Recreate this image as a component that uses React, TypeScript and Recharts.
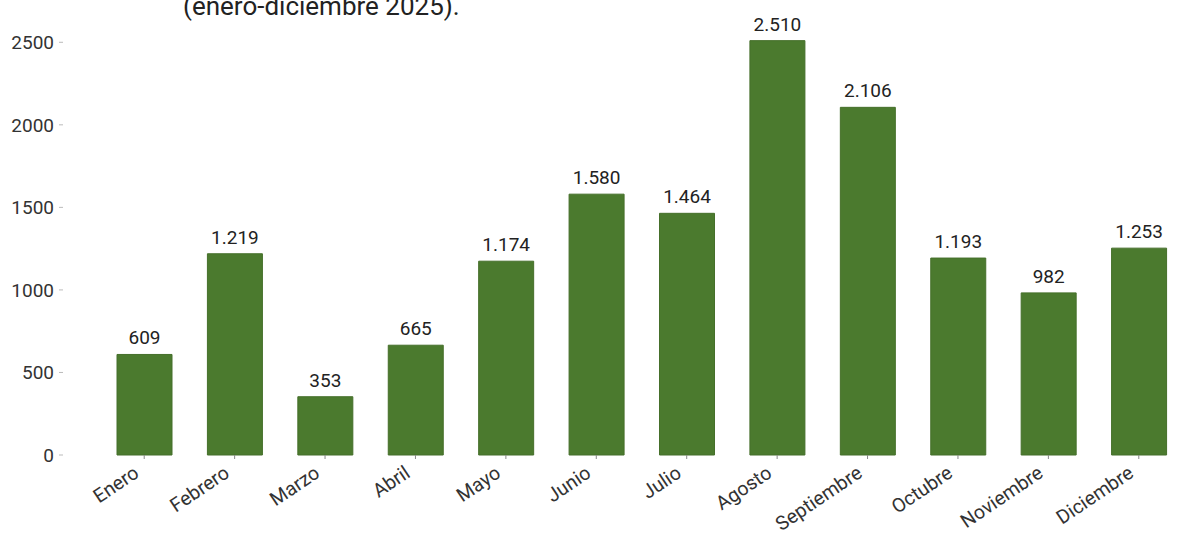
import React from "react";
import { BarChart, Bar, XAxis, YAxis, LabelList } from "recharts";

const months = [
  "Enero",
  "Febrero",
  "Marzo",
  "Abril",
  "Mayo",
  "Junio",
  "Julio",
  "Agosto",
  "Septiembre",
  "Octubre",
  "Noviembre",
  "Diciembre",
];
const totals = [609, 1219, 353, 665, 1174, 1580, 1464, 2510, 2106, 1193, 982, 1253];
const yTicks = [0, 500, 1000, 1500, 2000, 2500];

const data = months.map((m, i) => ({ month: m, total: totals[i] }));

const fmt = (v: number) => String(v).replace(/\B(?=(\d{3})+(?!\d))/g, ".");

const font = "Roboto, 'Noto Sans', sans-serif";

const MonthTick = (props: any) => {
  const { x, y, payload } = props;
  return (
    <g transform={`translate(${x - 4},${y + 15}) rotate(-34)`}>
      <text x={0} y={0} textAnchor="end" fill="#333" fontSize={19.5} fontFamily={font}>
        {payload.value}
      </text>
    </g>
  );
};

const App: React.FC = () => {
  return (
    <div
      style={{
        position: "absolute",
        left: 0,
        top: 0,
        width: 1199,
        height: 535,
        background: "#fff",
        fontFamily: font,
        overflow: "hidden",
      }}
    >
      <div
        style={{
          position: "absolute",
          left: 183,
          top: -7,
          fontSize: 26,
          lineHeight: "26px",
          color: "#222",
          whiteSpace: "nowrap",
        }}
      >
        (enero-diciembre 2025).
      </div>
      <BarChart
        width={1199}
        height={535}
        data={data}
        margin={{ top: 20, right: 5, left: 0, bottom: 0 }}
      >
        <XAxis
          dataKey="month"
          axisLine={false}
          tickLine={{ stroke: "#888" }}
          tickSize={4}
          height={80}
          interval={0}
          padding={{ left: 36, right: 10 }}
          tick={<MonthTick />}
        />
        <YAxis
          domain={[0, 2635]}
          ticks={yTicks}
          axisLine={false}
          tickLine={{ stroke: "#bbb" }}
          tickSize={4}
          tickMargin={5}
          width={63}
          tick={{ fill: "#333", fontSize: 19, fontFamily: font }}
        />
        <Bar dataKey="total" fill="#4b7a2e" stroke="#456f2a" barSize={55} isAnimationActive={false}>
          <LabelList
            dataKey="total"
            position="top"
            offset={10}
            formatter={(v: any) => fmt(Number(v))}
            style={{ fill: "#222", fontSize: 19, fontFamily: font }}
          />
        </Bar>
      </BarChart>
    </div>
  );
};

export default App;
